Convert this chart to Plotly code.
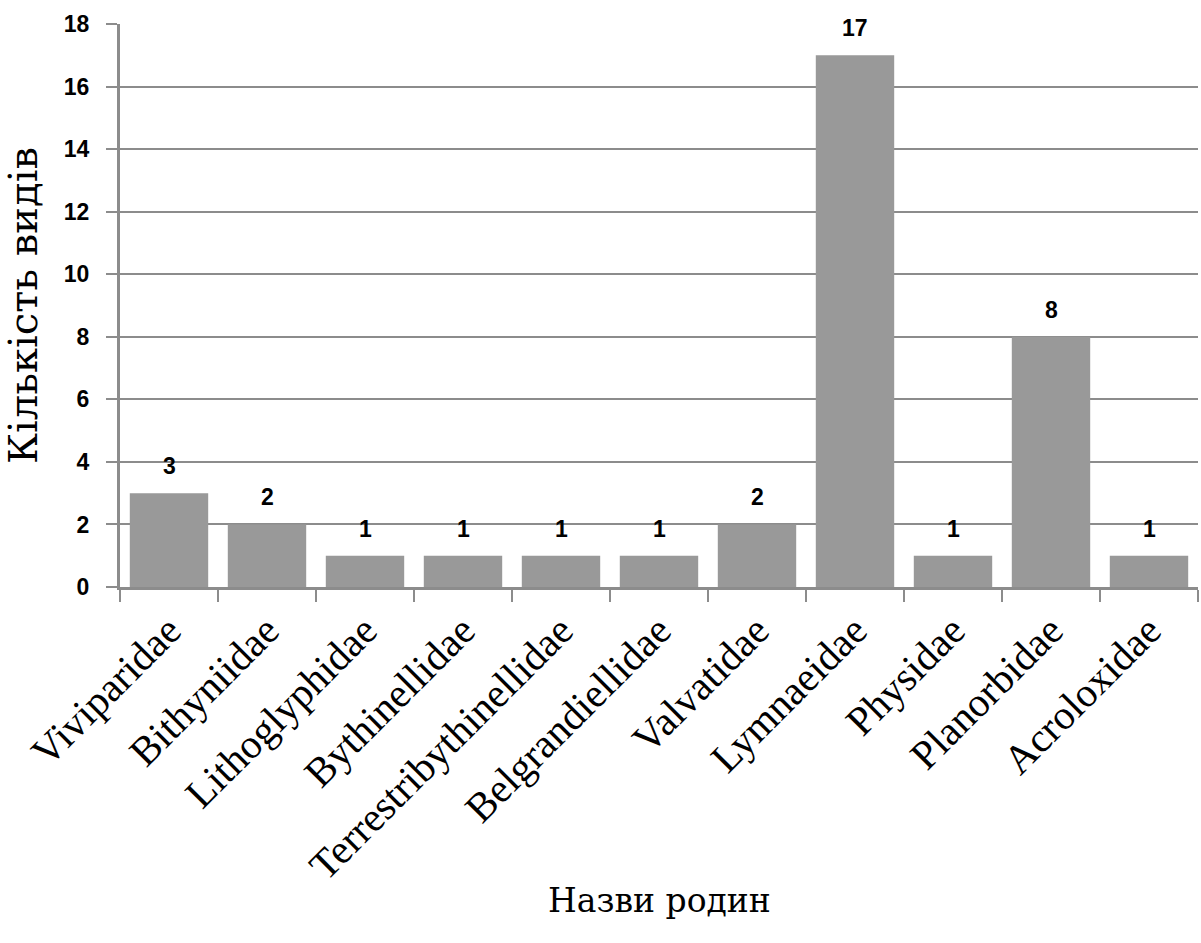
import plotly.graph_objects as go

families = ["Viviparidae", "Bithyniidae", "Lithoglyphidae", "Bythinellidae",
            "Terrestribythinellidae", "Belgrandiellidae", "Valvatidae",
            "Lymnaeidae", "Physidae", "Planorbidae", "Acroloxidae"]
species_count = [3, 2, 1, 1, 1, 1, 2, 17, 1, 8, 1]
y_ticks = [0, 2, 4, 6, 8, 10, 12, 14, 16, 18]
x_title = "Назви родин"
y_title = "Кількість видів"

GRID = "#8c8c8c"
fig = go.Figure()
fig.add_trace(go.Bar(
    x=families, y=species_count,
    marker=dict(color="#999999", line=dict(width=0)),
    hoverinfo="skip",
))
for f, v in zip(families, species_count):
    fig.add_annotation(x=f, y=v, text="<b>%d</b>" % v, showarrow=False,
                       yshift=27, font=dict(family="Liberation Sans", size=23, color="black"),
                       xref="x", yref="y")
fig.add_annotation(x=0.5, y=-0.556, xref="paper", yref="paper", text=x_title,
                   showarrow=False, xanchor="center", yanchor="middle",
                   font=dict(family="DejaVu Serif", size=33, color="black"))
fig.update_layout(
    width=1201, height=943,
    margin=dict(l=120, r=3, t=24, b=356),
    paper_bgcolor="white", plot_bgcolor="white",
    bargap=0.2, showlegend=False,
    font=dict(family="Liberation Serif", color="black"),
)
fig.update_xaxes(
    type="category", tickangle=-45, tickson="boundaries",
    ticks="outside", ticklen=12, tickwidth=2, tickcolor=GRID,
    showline=True, linecolor=GRID, linewidth=3,
    showgrid=False,
    tickfont=dict(family="Liberation Serif", size=41, color="black"),
)
fig.update_yaxes(
    range=[0, 18], tickvals=y_ticks, ticktext=["<b>%d</b>" % t for t in y_ticks],
    ticks="outside", ticklen=11, tickwidth=2, tickcolor=GRID,
    showline=True, linecolor=GRID, linewidth=3,
    showgrid=True, gridcolor=GRID, gridwidth=2,
    zeroline=False, ticklabelstandoff=12,
    tickfont=dict(family="Liberation Sans", size=23, color="black"),
    title=dict(text=y_title, font=dict(family="DejaVu Serif", size=40, color="black"),
               standoff=14),
)
fig.write_html("out.html")
